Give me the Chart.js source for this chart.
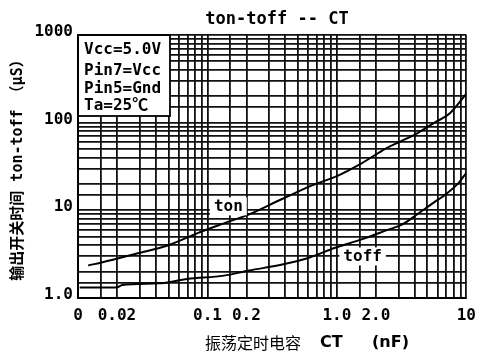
<!DOCTYPE html>
<html>
<head>
<meta charset="utf-8">
<title>ton-toff -- CT</title>
<script src="https://cdn.jsdelivr.net/npm/chart.js@4/dist/chart.umd.min.js"></script>
<style>
  html, body { margin: 0; padding: 0; background: #fff; }
  #wrap { width: 484px; height: 356px; }
</style>
</head>
<body>
<div id="wrap"><canvas id="chart" width="484" height="356"></canvas></div>
<script>
'use strict';

// ─── Data ─────────────────────────────────────────────────────────────────────
const tonCT   = [0.012, 0.0155, 0.028, 0.050, 0.084, 0.134, 0.21, 0.37, 0.65, 1.0, 1.55, 2.4, 3.1, 4.2, 5.6, 7.5, 10];
const tonTime = [2.35, 2.56, 3.2, 4.0, 5.5, 7.1, 9.0, 13.3, 19.4, 24.6, 34.4, 51, 61, 76, 99, 129, 214];

const toffCT   = [0.0103, 0.020, 0.022, 0.042, 0.070, 0.134, 0.21, 0.37, 0.575, 0.97, 1.55, 2.4, 3.2, 4.25, 5.7, 6.5, 8.65, 10];
const toffTime = [1.32, 1.32, 1.41, 1.47, 1.65, 1.80, 2.06, 2.39, 2.80, 3.74, 4.66, 5.9, 6.9, 9.2, 12.5, 14.2, 20.3, 26.8];

const xTickValues = [0.01, 0.02, 0.1, 0.2, 1, 2, 10];
const xTickLabels = ['0', '0.02', '0.1', '0.2', '1.0', '2.0', '10'];
const yTickValues = [1, 10, 100, 1000];
const yTickLabels = ['1.0', '10', '100', '1000'];
const gridSteps   = [1, 1.5, 2, 3, 4, 5, 6, 7, 8, 9];

const conditions = ['Vcc=5.0V', 'Pin7=Vcc', 'Pin5=Gnd', 'Ta=25℃'];

const MONO = '"DejaVu Sans Mono", "Noto Sans CJK SC", monospace';
const CJK  = '"Noto Sans CJK SC", "DejaVu Sans", sans-serif';

// ─── Helpers ──────────────────────────────────────────────────────────────────
function buildLogTicks(min, max) {
  const ticks = [];
  for (let e = Math.floor(Math.log10(min)); e <= Math.ceil(Math.log10(max)); e++) {
    gridSteps.forEach(m => {
      const v = parseFloat((m * Math.pow(10, e)).toPrecision(6));
      if (v >= min * 0.999 && v <= max * 1.001) ticks.push({ value: v });
    });
  }
  return ticks;
}

function labelFor(v, values, labels) {
  const i = values.findIndex(t => Math.abs(v - t) / t < 1e-6);
  return i < 0 ? '' : labels[i];
}

function toPoints(xs, ys) {
  return xs.map((x, i) => ({ x, y: ys[i] }));
}

// ─── Annotations: title, x title, condition box, curve labels ────────────────
const annotations = {
  id: 'annotations',
  afterDraw(chart) {
    const { ctx, chartArea: a, scales } = chart;
    ctx.save();
    ctx.fillStyle = '#000';
    ctx.textBaseline = 'middle';

    // chart title
    ctx.font = 'bold 17px ' + MONO;
    ctx.textAlign = 'center';
    ctx.fillText('ton-toff -- CT', 277, 20);

    // x axis title
    ctx.textAlign = 'left';
    ctx.font = '16px ' + CJK;
    ctx.fillText('振荡定时电容', 205, 343);
    ctx.font = 'bold 16px "DejaVu Sans", sans-serif';
    ctx.fillText('CT', 320, 343);
    ctx.fillText('(nF)', 372, 343);

    // conditions box
    ctx.fillStyle = '#fff';
    ctx.fillRect(a.left + 1, a.top + 1, 91, 80);
    ctx.strokeStyle = '#000';
    ctx.lineWidth = 1.8;
    ctx.strokeRect(a.left, a.top, 92, 81);
    ctx.fillStyle = '#000';
    ctx.font = 'bold 16px ' + MONO;
    const rows = [50, 71, 89, 106];
    conditions.forEach((t, i) => ctx.fillText(t, a.left + 6, rows[i]));

    // curve labels on white patches
    const tags = [['ton', 0.145, 11.1], ['toff', 1.58, 2.98]];
    ctx.textAlign = 'center';
    tags.forEach(([t, xv, yv]) => {
      const px = scales.x.getPixelForValue(xv);
      const py = scales.y.getPixelForValue(yv);
      const w = ctx.measureText(t).width + 8;
      ctx.fillStyle = '#fff';
      ctx.fillRect(px - w / 2, py - 9, w, 18);
      ctx.fillStyle = '#000';
      ctx.fillText(t, px, py);
    });
    ctx.restore();
  },
};

// ─── Chart ────────────────────────────────────────────────────────────────────
const lineStyle = {
  showLine: true,
  borderColor: '#000',
  borderWidth: 2,
  pointRadius: 0,
  cubicInterpolationMode: 'monotone',
};

new Chart(document.getElementById('chart'), {
  type: 'scatter',
  data: {
    datasets: [
      { label: 'ton', data: toPoints(tonCT, tonTime), ...lineStyle },
      { label: 'toff', data: toPoints(toffCT, toffTime), ...lineStyle },
    ],
  },
  options: {
    responsive: false,
    animation: false,
    layout: { padding: { top: 35, right: 11, bottom: 0, left: 0 } },
    plugins: { legend: { display: false }, tooltip: { enabled: false } },
    scales: {
      x: {
        type: 'logarithmic',
        min: 0.01, max: 10,
        afterBuildTicks: s => { s.ticks = buildLogTicks(s.min, s.max); },
        afterFit: s => { s.height = 58; },
        grid: { color: '#111', lineWidth: 1.8, drawTicks: false },
        border: { color: '#000', width: 2 },
        ticks: {
          autoSkip: false, maxRotation: 0, minRotation: 0, padding: 8,
          color: '#000', font: { family: MONO, size: 16, weight: 'bold' },
          callback: v => labelFor(v, xTickValues, xTickLabels),
        },
      },
      y: {
        type: 'logarithmic',
        min: 1, max: 1000,
        afterBuildTicks: s => { s.ticks = buildLogTicks(s.min, s.max); },
        afterFit: s => { s.width = 78; },
        grid: { color: '#111', lineWidth: 1.8, drawTicks: false },
        border: { color: '#000', width: 2 },
        ticks: {
          autoSkip: false, padding: 5, labelOffset: -3,
          color: '#000', font: { family: MONO, size: 16, weight: 'bold' },
          callback: v => labelFor(v, yTickValues, yTickLabels),
        },
        title: {
          display: true,
          text: '输出开关时间 ton-toff （μS）',
          color: '#000',
          font: { family: MONO, size: 15, weight: 'bold' },
          padding: { top: 9, bottom: 0 },
        },
      },
    },
  },
  plugins: [annotations],
});
</script>
</body>
</html>
